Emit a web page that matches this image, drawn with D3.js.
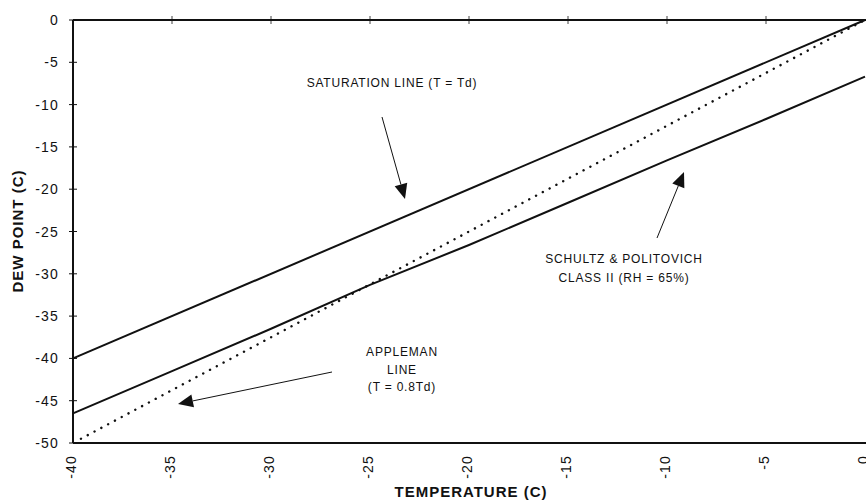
<!DOCTYPE html>
<meta charset="UTF-8">
<style>
  body { margin: 0; background: #fff; }
  text { font-family: Arial, "Liberation Sans", Helvetica, sans-serif; fill: #111; }
  .tick-label { font-size: 14px; letter-spacing: 1.2px; }
  .axis-title { font-size: 15px; font-weight: bold; letter-spacing: 1px; }
  .note { font-size: 12px; letter-spacing: 0.8px; }
</style>
<body>
<div class="chart"></div>
<script src="https://d3js.org/d3.v7.min.js"></script>
<script>
// temperature (C) along x, dew point (C) along y
var temps = [-40, -35, -30, -25, -20, -15, -10, -5, 0];
var dewTicks = [0, -5, -10, -15, -20, -25, -30, -35, -40, -45, -50];

// saturation line T = Td
var satTemp = [-40, 0];
var satDew = [-40, 0];
// Schultz & Politovich class II (RH = 65%)
var schTemp = [-40, -35, -30, -25, -20, -15, -10, -5, 0];
var schDew = [-46.5, -41.5, -36.5, -31.3, -26.6, -21.6, -16.6, -11.7, -6.7];
// Appleman line T = 0.8Td
var appTemp = [-39.6, 0];
var appDew = [-49.5, 0];

// annotation texts
var satLabel = ["SATURATION LINE (T = Td)"];
var schLabel = ["SCHULTZ & POLITOVICH", "CLASS II (RH = 65%)"];
var appLabel = ["APPLEMAN", "LINE", "(T = 0.8Td)"];

var width = 866, height = 502;
var svg = d3.select(".chart").append("svg")
    .attr("width", width)
    .attr("height", height);

var x = d3.scaleLinear().domain([-40, 0]).range([73, 865]);
var y = d3.scaleLinear().domain([-50, 0]).range([443, 20]);

// frame: left axis, top and bottom lines
svg.append("line").attr("x1", x(-40)).attr("x2", x(-40)).attr("y1", y(0)).attr("y2", y(-50))
  .attr("stroke", "#111").attr("stroke-width", 2);
svg.append("line").attr("x1", x(-40)).attr("x2", width).attr("y1", y(0)).attr("y2", y(0))
  .attr("stroke", "#111").attr("stroke-width", 2);
svg.append("line").attr("x1", x(-40)).attr("x2", width).attr("y1", y(-50)).attr("y2", y(-50))
  .attr("stroke", "#111").attr("stroke-width", 2);

// y ticks crossing the axis
svg.selectAll(".ytick").data(dewTicks).enter().append("line")
  .attr("x1", x(-40) - 4).attr("x2", x(-40) + 4)
  .attr("y1", function (d) { return y(d); }).attr("y2", function (d) { return y(d); })
  .attr("stroke", "#111").attr("stroke-width", 1);
svg.selectAll(".ylab").data(dewTicks).enter().append("text")
  .attr("class", "tick-label")
  .attr("x", 59).attr("y", function (d) { return y(d); })
  .attr("dy", "0.36em")
  .attr("text-anchor", "end")
  .text(function (d) { return d; });

// small ticks on the top line
svg.selectAll(".ttick").data(temps.slice(1, -1)).enter().append("line")
  .attr("x1", function (d) { return x(d); }).attr("x2", function (d) { return x(d); })
  .attr("y1", y(0) - 4).attr("y2", y(0) + 4)
  .attr("stroke", "#111").attr("stroke-width", 0.8);

// x labels, rotated
svg.selectAll(".xlab").data(temps).enter().append("text")
  .attr("class", "tick-label")
  .attr("text-anchor", "end")
  .attr("dy", "0.36em")
  .attr("transform", function (d) { return "translate(" + (x(d) - 2) + ",455) rotate(-90)"; })
  .text(function (d) { return d; });

// axis titles
svg.append("text").attr("class", "axis-title")
  .attr("x", 471).attr("y", 497).attr("text-anchor", "middle")
  .text("TEMPERATURE (C)");
svg.append("text").attr("class", "axis-title")
  .attr("text-anchor", "middle")
  .attr("transform", "translate(23,231) rotate(-90)")
  .text("DEW POINT (C)");

// series
var line = d3.line()
  .x(function (d) { return x(d[0]); })
  .y(function (d) { return y(d[1]); });

svg.append("path").datum(d3.zip(satTemp, satDew))
  .attr("d", line).attr("fill", "none").attr("stroke", "#111").attr("stroke-width", 2);
svg.append("path").datum(d3.zip(schTemp, schDew))
  .attr("d", line).attr("fill", "none").attr("stroke", "#111").attr("stroke-width", 2);
svg.append("path").datum(d3.zip(appTemp, appDew))
  .attr("d", line).attr("fill", "none").attr("stroke", "#111").attr("stroke-width", 2.4)
  .attr("stroke-dasharray", "0.1,7.6").attr("stroke-linecap", "round");

// arrows
function arrow(x1, y1, x2, y2) {
  var a = Math.atan2(y2 - y1, x2 - x1), len = 15, hw = 6.5;
  var bx = x2 - len * Math.cos(a), by = y2 - len * Math.sin(a);
  svg.append("line").attr("x1", x1).attr("y1", y1).attr("x2", bx).attr("y2", by)
    .attr("stroke", "#111").attr("stroke-width", 1);
  var pts = [[x2, y2],
    [bx + hw * Math.sin(a), by - hw * Math.cos(a)],
    [bx - hw * Math.sin(a), by + hw * Math.cos(a)]];
  svg.append("polygon").attr("points", pts.map(function (p) { return p.join(","); }).join(" "))
    .attr("fill", "#111");
}
arrow(382, 117, 405, 199);
arrow(657, 238, 684, 172);
arrow(332, 372, 178, 404);

// notes
svg.append("text").attr("class", "note").attr("x", 392).attr("y", 87)
  .attr("text-anchor", "middle").text(satLabel[0]);
svg.selectAll(".sch").data(schLabel).enter().append("text")
  .attr("class", "note").attr("x", 624).attr("y", function (d, i) { return 263 + i * 19; })
  .attr("text-anchor", "middle").text(function (d) { return d; });
svg.selectAll(".app").data(appLabel).enter().append("text")
  .attr("class", "note").attr("x", 402).attr("y", function (d, i) { return 356 + i * 17.5; })
  .attr("text-anchor", "middle").text(function (d) { return d; });
</script>
</body>
